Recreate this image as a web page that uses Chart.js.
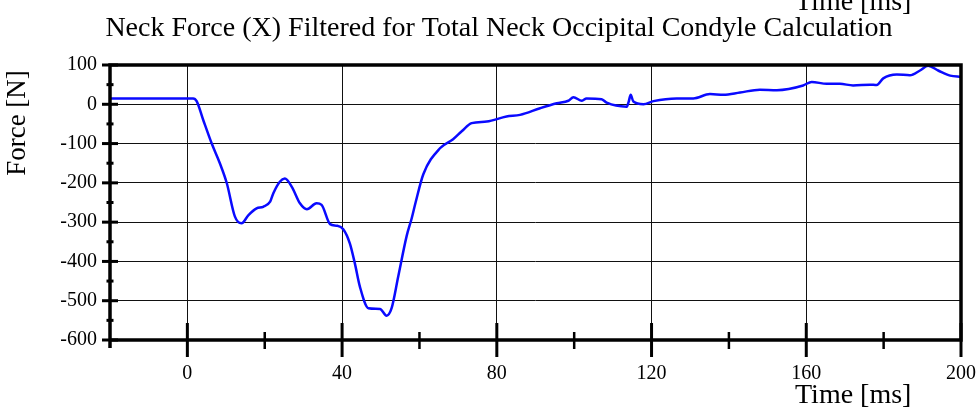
<!DOCTYPE html>
<html><head><meta charset="utf-8">
<script src="https://cdn.jsdelivr.net/npm/chart.js@4.4.0/dist/chart.umd.min.js"></script>
<style>html,body{margin:0;padding:0;background:#fff;}#wrap{width:979px;height:408px;}</style>
</head><body><div id="wrap"><canvas id="c" width="979" height="408"></canvas></div>
<script>
const chartTitle = "Neck Force (X) Filtered for Total Neck Occipital Condyle Calculation";
const xAxisTitle = "Time [ms]";
const yAxisTitle = "Force [N]";
const xTickValues = [0, 40, 80, 120, 160, 200];
const xMinorTicks = [20, 60, 100, 140, 180];
const yTickValues = [100, 0, -100, -200, -300, -400, -500, -600];
const yMinorTicks = [50, -50, -150, -250, -350, -450, -550];
const timeMs = [-20, 1.5, 2.4, 4.1, 6.3, 8.4, 10.2, 12.3, 14.0, 15.8, 17.9, 19.6, 21.4, 22.2, 23.9, 25.2, 27.0, 29.1, 30.9, 33.4, 34.7, 36.9, 38.6, 40.3, 42.0, 43.3, 44.6, 46.8, 49.8, 51.5, 52.8, 54.5, 56.7, 58.0, 59.0, 61.0, 65.3, 68.7, 71.0, 73.5, 77.4, 82.5, 86.0, 91.2, 95.5, 98.5, 99.8, 102.0, 103.2, 107.1, 108.4, 113.6, 114.1, 114.6, 115.3, 117.9, 120.5, 126.5, 130.8, 135.1, 138.6, 142.9, 148.0, 152.4, 159.2, 161.4, 165.3, 168.7, 172.1, 176.5, 178.2, 179.9, 183.4, 186.8, 189.4, 191.5, 194.1, 197.2, 200];
const forceN = [15, 15, 8, -40, -100, -150, -201, -286, -303, -282, -265, -261, -248, -227, -197, -189, -210, -252, -267, -252, -256, -305, -309, -318, -354, -405, -464, -519, -521, -538, -519, -439, -335, -290, -250, -178, -112, -89, -68, -48, -44, -31, -27, -10, 2.5, 9, 18, 9, 15, 13, 4, -6, 7, 24, 7, 0, 8, 15, 15, 26, 24, 30, 37, 36, 48, 57, 52, 52, 48, 50, 49, 66, 76, 74, 86, 98, 86, 73, 70];

const serif = '"Liberation Serif", "Times New Roman", serif';

const framePlugin = {
  id: 'frame',
  afterDraw(chart) {
    const ctx = chart.ctx, a = chart.chartArea;
    const xs = chart.scales.x, ys = chart.scales.y;
    ctx.save();
    ctx.strokeStyle = '#000';
    ctx.lineCap = 'butt';
    ctx.lineWidth = 3.5;
    ctx.beginPath();
    ctx.moveTo(a.left, a.bottom + 8); ctx.lineTo(a.left, a.top);
    ctx.lineTo(a.right, a.top); ctx.lineTo(a.right, a.bottom); ctx.lineTo(a.left - 1, a.bottom);
    ctx.stroke();
    ctx.lineWidth = 3;
    xTickValues.forEach(v => {
      const x = xs.getPixelForValue(v);
      ctx.beginPath(); ctx.moveTo(x, a.bottom - 17); ctx.lineTo(x, a.bottom + 17); ctx.stroke();
    });
    ctx.lineWidth = 2.5;
    xMinorTicks.forEach(v => {
      const x = xs.getPixelForValue(v);
      ctx.beginPath(); ctx.moveTo(x, a.bottom - 8); ctx.lineTo(x, a.bottom + 9); ctx.stroke();
    });
    ctx.lineWidth = 3;
    yTickValues.forEach(v => {
      const y = ys.getPixelForValue(v);
      ctx.beginPath(); ctx.moveTo(a.left - 8, y); ctx.lineTo(a.left + 8, y); ctx.stroke();
    });
    yMinorTicks.forEach(v => {
      const y = ys.getPixelForValue(v);
      ctx.beginPath(); ctx.moveTo(a.left - 3.5, y); ctx.lineTo(a.left + 3.5, y); ctx.stroke();
    });
    ctx.fillStyle = '#000';
    ctx.font = '28px ' + serif;
    ctx.textAlign = 'center'; ctx.textBaseline = 'alphabetic';
    ctx.fillText(chartTitle, 499, 36);
    ctx.textAlign = 'left';
    ctx.fillText(xAxisTitle, 795, 403);
    ctx.fillText(xAxisTitle, 795, 10);
    ctx.save();
    ctx.translate(25, 123);
    ctx.rotate(-Math.PI / 2);
    ctx.textAlign = 'center';
    ctx.font = '27px ' + serif;
    ctx.fillText(yAxisTitle, 0, 0);
    ctx.restore();
    ctx.restore();
  }
};

new Chart(document.getElementById('c'), {
  type: 'line',
  data: {
    datasets: [{
      data: timeMs.map((t, i) => ({ x: t, y: forceN[i] })),
      borderColor: '#0a0aff',
      borderWidth: 2.5,
      pointRadius: 0,
      fill: false,
      cubicInterpolationMode: 'monotone'
    }]
  },
  options: {
    responsive: false,
    animation: false,
    devicePixelRatio: 1,
    layout: { padding: { top: 65, right: 18, bottom: 0, left: 0 } },
    plugins: { legend: { display: false }, title: { display: false }, tooltip: { enabled: false } },
    scales: {
      x: {
        type: 'linear', min: -20, max: 200,
        afterBuildTicks: s => { s.ticks = xTickValues.map(v => ({ value: v })); },
        afterFit: s => { s.height = 68; s.paddingLeft = 0; s.paddingRight = 0; },
        border: { display: false },
        grid: { drawTicks: false, lineWidth: 1, color: c => (c.tick && c.tick.value === 200) ? 'rgba(0,0,0,0)' : '#111' },
        ticks: { autoSkip: false, maxRotation: 0, padding: 22, color: '#000', font: { family: serif, size: 20 } }
      },
      y: {
        type: 'linear', min: -600, max: 100,
        afterBuildTicks: s => { s.ticks = yTickValues.map(v => ({ value: v })); },
        afterFit: s => { s.width = 110; s.paddingTop = 0; s.paddingBottom = 0; },
        border: { display: false },
        grid: { drawTicks: false, lineWidth: 1, color: c => (c.tick && (c.tick.value === 100 || c.tick.value === -600)) ? 'rgba(0,0,0,0)' : '#111' },
        ticks: { padding: 13, color: '#000', font: { family: serif, size: 20 } }
      }
    }
  },
  plugins: [framePlugin]
});
</script></body></html>
